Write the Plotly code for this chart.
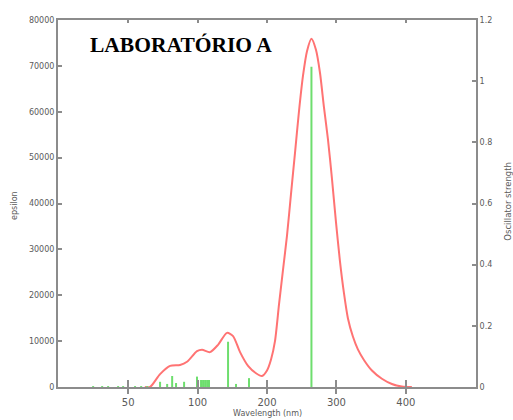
import numpy as np
import plotly.graph_objects as go

# ---- data ----
# axis tick labels (wavelength, nm) - ticks are equally spaced on the picture
tick_nm = [50, 100, 200, 300, 400]
tick_labels = ["50", "100", "200", "300", "400"]
# knots of the (non-linear) wavelength axis: nm -> axis position
axis_knots_nm = [0, 50, 100, 200, 300, 400, 500]
axis_knots_pos = [0, 1, 2, 3, 4, 5, 6]

# convoluted spectrum (red)
wavelength_nm = [62.0, 65.8, 73.0, 80.2, 87.4, 92.4, 99.6, 106.5, 118.0, 129.5,
                 142.4, 151.1, 161.2, 172.7, 184.2, 192.8, 200.0, 205.8, 211.5, 217.3,
                 223.0, 228.8, 234.5, 240.3, 246.0, 251.8, 257.6, 264.0, 270.5, 276.3,
                 282.0, 287.8, 293.5, 299.3, 305.0, 310.8, 316.5, 323.7, 330.9, 339.6,
                 351.1, 365.5, 379.9, 394.2, 408.6]
epsilon = [0, 0, 2800, 4600, 4800, 5500, 7800, 8100, 7600, 9200,
           11800, 11100, 7600, 4600, 3000, 2400, 3600, 6000, 10000, 18000,
           25500, 33000, 42000, 51000, 60000, 67800, 73200, 75900, 73500, 68500,
           61000, 54000, 45500, 36000, 27500, 20500, 15000, 11000, 8200, 5900,
           3600, 1800, 650, 100, 0]

# transitions (green sticks)
bar_nm = [24.8, 31.3, 35.6, 42.8, 46.4, 55.0, 59.4, 63.7, 73.0, 78.1,
          81.7, 84.5, 90.3, 99.6, 105.0, 107.9, 110.8, 113.7, 116.5, 143.9,
          155.4, 174.1, 264.0]
osc_strength = [0.003, 0.003, 0.003, 0.003, 0.003, 0.003, 0.003, 0.003, 0.017, 0.010,
                0.036, 0.013, 0.017, 0.034, 0.023, 0.023, 0.023, 0.023, 0.023, 0.148,
                0.010, 0.029, 1.047]

# ---- build figure ----
def to_pos(nm):
    return np.interp(nm, axis_knots_nm, axis_knots_pos)

tick_pos = to_pos(tick_nm)
curve_x = to_pos(wavelength_nm)

stick_x, stick_y = [], []
for w, f in zip(bar_nm, osc_strength):
    p = float(to_pos(w))
    stick_x += [p, p, None]
    stick_y += [0, f, None]

AX = "#8c8c8c"
TXT = "#5a5a5a"
FONT = "DejaVu Sans"

fig = go.Figure()
fig.add_trace(go.Scatter(x=stick_x, y=stick_y, mode="lines", yaxis="y2",
                         line=dict(color="rgb(110,222,110)", width=2),
                         hoverinfo="skip"))
fig.add_trace(go.Scatter(x=curve_x, y=epsilon, mode="lines",
                         line=dict(color="rgb(255,115,115)", width=2,
                                   shape="spline", smoothing=0.7)))
# helper (invisible) traces so the overlay tick axes are drawn
fig.add_trace(go.Scatter(x=[tick_pos[0]], y=[0], xaxis="x3", mode="markers",
                         marker=dict(opacity=0), hoverinfo="skip"))
fig.add_trace(go.Scatter(x=[tick_pos[0]], y=[0], xaxis="x4", mode="markers",
                         marker=dict(opacity=0), hoverinfo="skip"))

xr = [-0.01, 6.01]
fig.update_layout(
    width=513, height=420,
    margin=dict(l=58, r=37, t=20, b=33, autoexpand=False),
    plot_bgcolor="white", paper_bgcolor="white",
    showlegend=False,
    xaxis=dict(range=xr, tickvals=tick_pos, ticktext=tick_labels,
               ticks="outside", ticklen=5, tickwidth=1.5, tickcolor=AX,
               showline=True, linecolor=AX, linewidth=2, mirror=True,
               showgrid=False, zeroline=False,
               tickfont=dict(family=FONT, size=10, color=TXT)),
    xaxis3=dict(range=xr, overlaying="x", anchor="y", side="bottom",
                tickvals=tick_pos, ticks="inside", ticklen=7, tickwidth=1.5,
                tickcolor=AX, showticklabels=False, showline=False,
                showgrid=False, zeroline=False),
    xaxis4=dict(range=xr, overlaying="x", anchor="y", side="top",
                tickvals=tick_pos, ticks="inside", ticklen=3, tickwidth=1.5,
                tickcolor=AX, showticklabels=False, showline=False,
                showgrid=False, zeroline=False),
    yaxis=dict(range=[0, 80000], dtick=10000, tickformat="d",
               ticks="inside", ticklen=4, tickwidth=1.5, tickcolor=AX,
               showline=True, linecolor=AX, linewidth=2,
               showgrid=False, zeroline=False,
               tickfont=dict(family=FONT, size=8, color=TXT)),
    yaxis2=dict(range=[0, 1.2], dtick=0.2, overlaying="y", side="right",
                ticks="inside", ticklen=4, tickwidth=1.5, tickcolor=AX,
                showline=True, linecolor=AX, linewidth=2,
                showgrid=False, zeroline=False,
                tickfont=dict(family=FONT, size=8, color=TXT)),
    annotations=[
        dict(text="LABORATÓRIO A", xref="paper", yref="paper",
             x=0.0718, y=0.933, xanchor="left", yanchor="middle", showarrow=False,
             font=dict(family="Liberation Serif", size=21.5, color="black", weight="bold")),
        dict(text="epsilon", xref="paper", yref="paper", x=-0.103, y=0.496,
             textangle=-90, showarrow=False, xanchor="center", yanchor="middle",
             font=dict(family=FONT, size=8, color=TXT)),
        dict(text="Oscillator strength", xref="paper", yref="paper", x=1.076, y=0.507,
             textangle=-90, showarrow=False, xanchor="center", yanchor="middle",
             font=dict(family=FONT, size=8.5, color=TXT)),
        dict(text="Wavelength (nm)", xref="paper", yref="paper", x=0.5, y=-0.071,
             showarrow=False, xanchor="center", yanchor="middle",
             font=dict(family=FONT, size=8, color=TXT)),
    ],
)

fig.write_html("out.html", config={"displayModeBar": False},
               post_script="document.body.style.margin='0';")
